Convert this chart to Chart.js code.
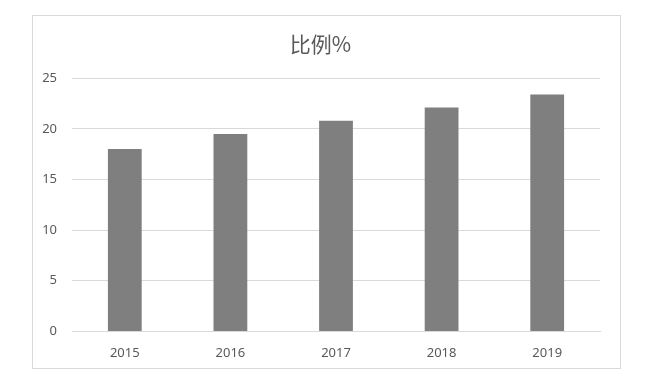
<!DOCTYPE html>
<html>
<head>
<meta charset="utf-8">
<script src="https://cdn.jsdelivr.net/npm/chart.js@4/dist/chart.umd.min.js"></script>
<style>
  html, body { margin: 0; padding: 0; background: #fff; }
  #wrap { width: 656px; height: 382px; position: relative; }
</style>
</head>
<body>
<div id="wrap"><canvas id="ratioChart"></canvas></div>
<script>
const years = ['2015', '2016', '2017', '2018', '2019'];
const ratio = [18.0, 19.5, 20.8, 22.1, 23.4];
const yTicks = [0, 5, 10, 15, 20, 25];

// light frame around the chart, like the spreadsheet export
const framePlugin = {
    id: 'frame',
    beforeDraw(chart) {
        const ctx = chart.ctx;
        ctx.save();
        ctx.fillStyle = '#ffffff';
        ctx.fillRect(0, 0, chart.width, chart.height);
        ctx.strokeStyle = '#d9d9d9';
        ctx.lineWidth = 1;
        ctx.strokeRect(32.5, 15.5, 588, 353);
        ctx.restore();
    }
};

const labelFont = { family: '"Noto Sans", "Liberation Sans", sans-serif', size: 13 };

new Chart(document.getElementById('ratioChart'), {
    type: 'bar',
    data: {
        labels: years,
        datasets: [{
            label: '比例%',
            data: ratio,
            backgroundColor: '#7f7f7f',
            borderWidth: 0,
            categoryPercentage: 1,
            barPercentage: 0.32
        }]
    },
    options: {
        responsive: true,
        maintainAspectRatio: false,
        animation: false,
        layout: {
            padding: { left: 41, right: 56, top: 0, bottom: 7 }
        },
        plugins: {
            legend: { display: false },
            tooltip: { enabled: false },
            title: {
                display: true,
                text: '比例%',
                color: '#595959',
                font: { family: '"Noto Sans CJK SC", sans-serif', size: 21, weight: 'normal' },
                padding: { top: 31, bottom: 22 }
            }
        },
        scales: {
            x: {
                grid: { display: false, drawTicks: false },
                border: { color: '#d9d9d9' },
                ticks: { color: '#595959', font: labelFont, padding: 14 }
            },
            y: {
                min: 0,
                max: 25,
                afterBuildTicks: (scale) => {
                    scale.ticks = yTicks.map(v => ({ value: v }));
                },
                afterFit: (scale) => { scale.width = 31; },
                grid: { color: '#d9d9d9', drawTicks: false },
                border: { display: false },
                ticks: { color: '#595959', font: labelFont, padding: 15 }
            }
        }
    },
    plugins: [framePlugin]
});
</script>
</body>
</html>
